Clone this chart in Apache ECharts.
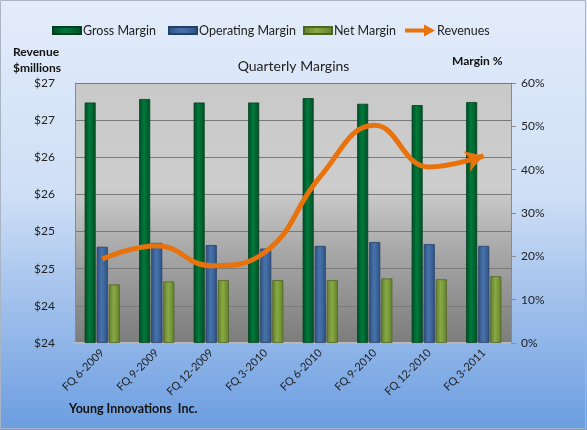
<!DOCTYPE html>
<html>
<head>
<meta charset="utf-8">
<script src="https://cdn.jsdelivr.net/npm/echarts@6/dist/echarts.min.js"></script>
<style>
html,body{margin:0;padding:0;}
#c{width:587px;height:430px;}
</style>
</head>
<body>
<div id="c"></div>
<script>
var categories = ['FQ 6-2009','FQ 9-2009','FQ 12-2009','FQ 3-2010','FQ 6-2010','FQ 9-2010','FQ 12-2010','FQ 3-2011'];
var grossMargin = [55.5, 56.3, 55.5, 55.5, 56.5, 55.2, 54.9, 55.6];
var operatingMargin = [22.2, 23.1, 22.6, 21.8, 22.4, 23.3, 22.8, 22.4];
var netMargin = [13.5, 14.2, 14.5, 14.5, 14.5, 14.9, 14.7, 15.4];
var revenues = [24.63, 24.81, 24.54, 24.73, 25.74, 26.43, 25.87, 26.02];
var revenueTicks = {min: 23.5, max: 27, step: 0.5};
var marginTicks = {min: 0, max: 60, step: 10};

var FONT = 'Lato, "Open Sans", sans-serif';

function barGrad(edge, mid) {
  return new echarts.graphic.LinearGradient(0, 0, 1, 0, [
    {offset: 0, color: edge}, {offset: 0.45, color: mid}, {offset: 1, color: edge}
  ]);
}
var green = barGrad('#004d24', '#007a3c');
var blue = barGrad('#2d5386', '#4873aa');
var olive = barGrad('#62802c', '#89a944');

var revData = revenues.map(function (v, i) {
  if (i === revenues.length - 1) {
    return {value: v, symbol: 'arrow', symbolSize: [16, 18], symbolRotate: -72, symbolOffset: [0, 0],
      itemStyle: {color: '#e8720c'}};
  }
  return v;
});

var arrowPath = 'path://M0,4 L19,4 L19,0 L30,6 L19,12 L19,8 L0,8 Z';

function legend(name, left, icon, w, h) {
  return {
    data: [{name: name, icon: icon}],
    left: left, top: 19, itemWidth: w, itemHeight: h, itemGap: 0,
    textStyle: {fontFamily: FONT, fontSize: 12.5, color: '#222', padding: [0, 0, 0, -3]},
    selectedMode: false
  };
}

var chart = echarts.init(document.getElementById('c'));
chart.setOption({
  animation: false,
  backgroundColor: new echarts.graphic.LinearGradient(0, 0, 0, 1, [
    {offset: 0, color: '#e3ecfa'}, {offset: 0.45, color: '#cfdff6'}, {offset: 1, color: '#6b9de0'}
  ]),
  graphic: [
    {type: 'rect', shape: {x: 0.5, y: 0.5, width: 585, height: 428}, style: {fill: 'none', stroke: '#a9b4c4', lineWidth: 1}, z: 100},
    {type: 'text', left: 13, top: 44, style: {text: 'Revenue\n$millions', fontFamily: FONT, fontWeight: 'bold', fontSize: 12, lineHeight: 16, fill: '#111', align: 'left'}},
    {type: 'text', left: 452, top: 55, style: {text: 'Margin %', fontFamily: FONT, fontWeight: 'bold', fontSize: 12, fill: '#111'}},
    {type: 'text', left: 69, top: 402, style: {text: 'Young Innovations  Inc.', fontFamily: FONT, fontWeight: 'bold', fontSize: 12.5, fill: '#111'}}
  ],
  title: {
    text: 'Quarterly Margins', left: 'center', top: 54,
    textStyle: {fontFamily: FONT, fontWeight: 'normal', fontSize: 14, color: '#222'}
  },
  legend: [
    legend('Gross Margin', 47, 'rect', 28, 7),
    legend('Operating Margin', 163, 'rect', 28, 7),
    legend('Net Margin', 298, 'rect', 28, 7),
    legend('Revenues', 400, arrowPath, 30, 12)
  ],
  grid: {
    left: 75, right: 76, top: 83, bottom: 87, show: true, borderWidth: 0,
    backgroundColor: new echarts.graphic.LinearGradient(0, 0, 0, 1, [
      {offset: 0, color: '#c9c9c9'}, {offset: 0.4, color: '#cdcdcd'}, {offset: 0.65, color: '#a7a7a7'}, {offset: 1, color: '#7c7c7c'}
    ])
  },
  xAxis: {
    type: 'category', data: categories,
    axisLine: {show: true, lineStyle: {color: '#b8b8b8', width: 2}},
    axisTick: {show: false},
    axisLabel: {rotate: 45, fontFamily: FONT, fontSize: 11, color: '#222', margin: 8}
  },
  yAxis: [
    {
      type: 'value', min: revenueTicks.min, max: revenueTicks.max, interval: revenueTicks.step,
      axisLine: {show: true, lineStyle: {color: '#8a8a8a'}},
      axisTick: {show: false},
      splitLine: {show: true, lineStyle: {color: '#7a7a7a', width: 1}},
      axisLabel: {fontFamily: FONT, fontSize: 12, color: '#222', margin: 20,
        formatter: function (v) { return '$' + Math.round(v); }}
    },
    {
      type: 'value', min: marginTicks.min, max: marginTicks.max, interval: marginTicks.step,
      position: 'right',
      axisLine: {show: true, lineStyle: {color: '#8a8a8a'}},
      axisTick: {show: true, length: 5, inside: false, lineStyle: {color: '#8a8a8a'}},
      splitLine: {show: false},
      axisLabel: {fontFamily: FONT, fontSize: 12, color: '#222', margin: 10, formatter: '{value}%'}
    }
  ],
  series: [
    {name: 'Gross Margin', type: 'bar', yAxisIndex: 1, data: grossMargin, barWidth: 11, barGap: '10%',
      itemStyle: {color: green, borderColor: '#00401e', borderWidth: 0.8}},
    {name: 'Operating Margin', type: 'bar', yAxisIndex: 1, data: operatingMargin, barWidth: 11, barGap: '10%',
      itemStyle: {color: blue, borderColor: '#243f68', borderWidth: 0.8}},
    {name: 'Net Margin', type: 'bar', yAxisIndex: 1, data: netMargin, barWidth: 11, barGap: '10%',
      itemStyle: {color: olive, borderColor: '#4f6623', borderWidth: 0.8}},
    {name: 'Revenues', type: 'line', yAxisIndex: 0, data: revData, smooth: 0.45,
      symbol: 'none', showSymbol: true,
      lineStyle: {color: '#e8720c', width: 5},
      itemStyle: {color: '#e8720c'}, z: 10}
  ]
});
</script>
</body>
</html>
